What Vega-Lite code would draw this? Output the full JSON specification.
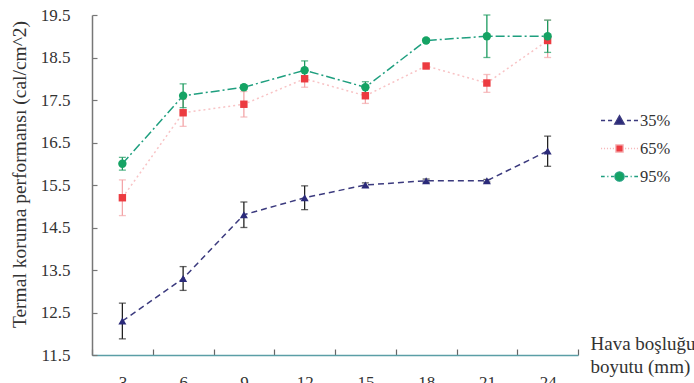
{
  "$schema": "https://vega.github.io/schema/vega-lite/v6.json",
  "width": 486,
  "height": 340,
  "autosize": "none",
  "padding": {"left": 92, "top": 15, "right": 116, "bottom": 28},
  "background": "white",
  "config": {
    "view": {"stroke": null},
    "font": "Liberation Serif",
    "axis": {"labelFont": "Liberation Serif", "titleFont": "Liberation Serif"},
    "legend": {"labelFont": "Liberation Serif"}
  },
  "data": {
    "values": [
      {"x": 3, "s": "35%", "v": 12.3, "lo": 11.88, "hi": 12.72},
      {"x": 6, "s": "35%", "v": 13.3, "lo": 13.02, "hi": 13.58},
      {"x": 9, "s": "35%", "v": 14.8, "lo": 14.5, "hi": 15.1},
      {"x": 12, "s": "35%", "v": 15.2, "lo": 14.92, "hi": 15.48},
      {"x": 15, "s": "35%", "v": 15.5, "lo": 15.45, "hi": 15.55},
      {"x": 18, "s": "35%", "v": 15.6, "lo": 15.56, "hi": 15.64},
      {"x": 21, "s": "35%", "v": 15.6, "lo": 15.57, "hi": 15.63},
      {"x": 24, "s": "35%", "v": 16.3, "lo": 15.94, "hi": 16.65},
      {"x": 3, "s": "65%", "v": 15.2, "lo": 14.78, "hi": 15.62},
      {"x": 6, "s": "65%", "v": 17.2, "lo": 16.88, "hi": 17.52},
      {"x": 9, "s": "65%", "v": 17.4, "lo": 17.1, "hi": 17.7},
      {"x": 12, "s": "65%", "v": 18.0, "lo": 17.8, "hi": 18.2},
      {"x": 15, "s": "65%", "v": 17.6, "lo": 17.42, "hi": 17.78},
      {"x": 18, "s": "65%", "v": 18.3, "lo": 18.25, "hi": 18.35},
      {"x": 21, "s": "65%", "v": 17.9, "lo": 17.68, "hi": 18.1},
      {"x": 24, "s": "65%", "v": 18.9, "lo": 18.5, "hi": 19.38},
      {"x": 3, "s": "95%", "v": 16.0, "lo": 15.85, "hi": 16.15},
      {"x": 6, "s": "95%", "v": 17.6, "lo": 17.32, "hi": 17.88},
      {"x": 9, "s": "95%", "v": 17.8, "lo": 17.75, "hi": 17.85},
      {"x": 12, "s": "95%", "v": 18.2, "lo": 18.02, "hi": 18.42},
      {"x": 15, "s": "95%", "v": 17.8, "lo": 17.67, "hi": 17.93},
      {"x": 18, "s": "95%", "v": 18.9, "lo": 18.86, "hi": 18.94},
      {"x": 21, "s": "95%", "v": 19.0, "lo": 18.5, "hi": 19.5},
      {"x": 24, "s": "95%", "v": 19.0, "lo": 18.62, "hi": 19.38}
    ]
  },
  "encoding": {
    "x": {
      "field": "x",
      "type": "ordinal",
      "scale": {"type": "band", "paddingInner": 0, "paddingOuter": 0},
      "axis": {
        "title": ["Hava boşluğu", "boyutu (mm)"],
        "labelAngle": 0,
        "tickBand": "extent",
        "tickSize": -6,
        "labelPadding": 25,
        "labelBaseline": "top",
        "labelFontSize": 17,
        "labelColor": "#333",
        "labelFont": "Liberation Serif",
        "domainColor": "#5b9ea6",
        "domainWidth": 1.5,
        "tickColor": "#666",
        "tickWidth": 1.2,
        "titleX": 498,
        "titleY": -6,
        "titleAlign": "left",
        "titleAnchor": null,
        "titleBaseline": "alphabetic",
        "titleFontSize": 19,
        "titleFontWeight": "normal",
        "titleColor": "#333",
        "titleFont": "Liberation Serif",
        "titleLineHeight": 23
      }
    },
    "y": {"field": "v", "type": "quantitative", "axis": {"title": "Termal koruma performansı (cal/cm^2)"}}
  },
  "layer": [
    {
      "mark": {"type": "rule", "strokeWidth": 1.3},
      "encoding": {
        "y": {
          "field": "lo",
          "type": "quantitative",
          "scale": {"domain": [11.5, 19.5], "zero": false, "nice": false},
          "axis": {
            "title": "Termal koruma performansı (cal/cm^2)",
            "values": [11.5, 12.5, 13.5, 14.5, 15.5, 16.5, 17.5, 18.5, 19.5],
            "format": ".1f",
            "grid": false,
            "tickSize": -5,
            "labelPadding": 27,
            "labelFontSize": 17,
            "labelColor": "#333",
            "labelFont": "Liberation Serif",
            "domainColor": "#777",
            "domainWidth": 1.5,
            "tickColor": "#777",
            "tickWidth": 1.2,
            "titleX": -73,
            "titleY": 159,
            "titleAngle": 270,
            "titleAlign": "center",
            "titleBaseline": "middle",
            "titleFontSize": 19.5,
            "titleFontWeight": "normal",
            "titleColor": "#333",
            "titleFont": "Liberation Serif"
          }
        },
        "y2": {"field": "hi"},
        "color": {"field": "s", "type": "nominal", "scale": {"domain": ["35%", "65%", "95%"], "range": ["#222222", "#f3a5a8", "#1a9a5e"]}, "legend": null}
      }
    },
    {
      "mark": {"type": "tick", "size": 7, "thickness": 1.3},
      "encoding": {
        "y": {"field": "lo", "type": "quantitative", "axis": {"title": "Termal koruma performansı (cal/cm^2)"}},
        "color": {"field": "s", "type": "nominal", "scale": {"domain": ["35%", "65%", "95%"], "range": ["#222222", "#f3a5a8", "#1a9a5e"]}, "legend": null}
      }
    },
    {
      "mark": {"type": "tick", "size": 7, "thickness": 1.3},
      "encoding": {
        "y": {"field": "hi", "type": "quantitative", "axis": {"title": "Termal koruma performansı (cal/cm^2)"}},
        "color": {"field": "s", "type": "nominal", "scale": {"domain": ["35%", "65%", "95%"], "range": ["#222222", "#f3a5a8", "#1a9a5e"]}, "legend": null}
      }
    },
    {
      "mark": {"type": "line", "strokeWidth": 1.5},
      "encoding": {
        "color": {"field": "s", "type": "nominal", "scale": {"domain": ["35%", "65%", "95%"], "range": ["#3b3a7e", "#f8c3c5", "#1f9f7f"]}, "legend": null},
        "strokeDash": {"field": "s", "type": "nominal", "scale": {"domain": ["35%", "65%", "95%"], "range": [[6, 4], [2, 3], [9, 3, 2, 3]]}, "legend": null}
      }
    },
    {
      "transform": [{"filter": {"field": "s", "equal": "35%"}}],
      "mark": {"type": "point", "filled": true, "size": 65, "opacity": 1, "shape": "triangle-up", "color": "#2b2a7a"}
    },
    {
      "transform": [{"filter": {"field": "s", "equal": "65%"}}],
      "mark": {"type": "point", "filled": true, "size": 55, "opacity": 1, "shape": "square", "color": "#ec3b40"}
    },
    {
      "transform": [{"filter": {"field": "s", "equal": "95%"}}],
      "mark": {"type": "point", "filled": true, "size": 70, "opacity": 1, "shape": "circle", "color": "#15a364"}
    },
    {
      "transform": [{"filter": "datum.x < 0"}],
      "mark": {"type": "point", "filled": true, "opacity": 1, "strokeWidth": 1.3},
      "encoding": {
        "fill": {"field": "s", "type": "nominal", "scale": {"domain": ["35%", "65%", "95%"], "range": ["#2b2a7a", "#ec3b40", "#15a364"]},
          "legend": {"title": null, "orient": "none", "legendX": 508, "legendY": 86, "symbolSize": 1369, "symbolStrokeWidth": 1.3, "labelFontSize": 16.5, "labelFont": "Liberation Serif", "labelColor": "#333", "labelOffset": 1, "rowPadding": 0, "padding": 0}},
        "stroke": {"field": "s", "type": "nominal", "scale": {"domain": ["35%", "65%", "95%"], "range": ["#3b3a7e", "#f6b9bc", "#1f9f7f"]},
          "legend": {"title": null, "orient": "none", "legendX": 508, "legendY": 86, "symbolSize": 1369, "symbolStrokeWidth": 1.3, "labelFontSize": 16.5, "labelFont": "Liberation Serif", "labelColor": "#333", "labelOffset": 1, "rowPadding": 0, "padding": 0}},
        "shape": {
          "field": "s",
          "type": "nominal",
          "scale": {"domain": ["35%", "65%", "95%"], "range": [
            "M-1,0H-0.78M-0.62,0H-0.4M0.4,0H0.62M0.78,0H1M-0.26,0.2L0.26,0.2L0,-0.26Z",
            "M-1,0H-0.94M-0.84,0H-0.78M-0.68,0H-0.62M-0.52,0H-0.46M-0.36,0H-0.3M0.3,0H0.36M0.46,0H0.52M0.62,0H0.68M0.78,0H0.84M0.94,0H1M-0.2,-0.2H0.2V0.2H-0.2Z",
            "M-1,0H-0.8M-0.66,0H-0.6M-0.46,0H-0.3M0.3,0H0.46M0.6,0H0.66M0.8,0H1M0.25,0A0.25,0.25 0 1 1 -0.25,0A0.25,0.25 0 1 1 0.25,0Z"
          ]},
          "legend": {"title": null, "orient": "none", "legendX": 508, "legendY": 86, "symbolSize": 1369, "symbolStrokeWidth": 1.3, "labelFontSize": 16.5, "labelFont": "Liberation Serif", "labelColor": "#333", "labelOffset": 1, "rowPadding": 0, "padding": 0}
        }
      }
    }
  ],
  "resolve": {"scale": {"color": "independent", "strokeDash": "independent"}}
}
